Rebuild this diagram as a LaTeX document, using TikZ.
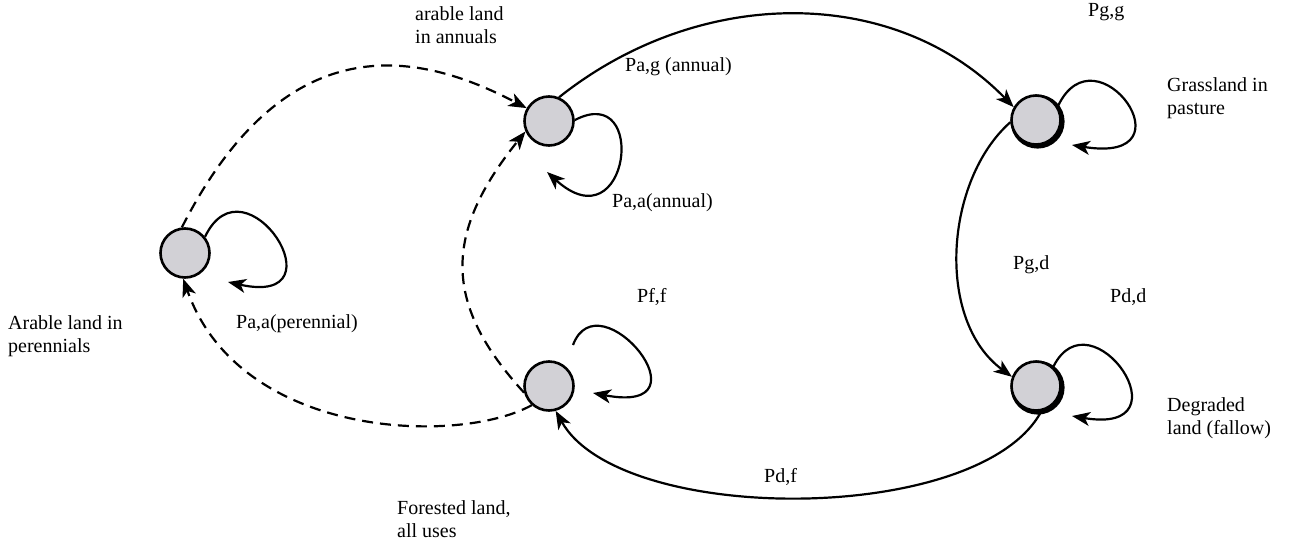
\documentclass[tikz,border=0pt]{standalone}
\usepackage{fontspec}
\setmainfont{Liberation Serif}
\usetikzlibrary{arrows.meta,calc}
\definecolor{nodegray}{RGB}{210,209,214}
\begin{document}
\begin{tikzpicture}[x=1pt,y=1pt,
  state/.style={circle,draw,line width=2.6pt,fill=nodegray,minimum size=49pt,inner sep=0pt},
  lbl/.style={font=\fontsize{20}{23}\selectfont, inner sep=0pt, anchor=west, align=left},
  edge/.style={line width=2.2pt, -{Stealth[length=18pt,width=14pt,inset=5pt]}},
  dashededge/.style={edge, dash pattern=on 11pt off 7pt},
]
\useasboundingbox (0,0) rectangle (1296,-549);
% shadows of two nodes
\fill (1037.6,-121.6) circle (27);
\fill (1037.6,-387.6) circle (27);
\node[state] (A) at (549,-121) {};
\node[state] (P) at (185,-253) {};
\node[state] (G) at (1036,-120) {};
\node[state] (D) at (1036,-386) {};
\node[state] (F) at (549,-386) {};

% solid connectors
\draw[edge] (A.67) .. controls (700,15) and (895,15) .. (G.150);
\draw[edge] (G.185) .. controls (945,-180) and (935,-320) .. (D.159);
\draw[edge] (D.-78) .. controls (980,-526) and (620,-526) .. (F.-75);
% dashed connectors
\draw[dashededge] (F.195) .. controls (443,-304) and (443,-234) .. (A.204);
\draw[dashededge] (F.228) .. controls (460,-445) and (240,-440) .. (P.-94);
\draw[dashededge] (P.97) .. controls (285,-25) and (416,-50) .. (A.150);
% self loops
\draw[edge] (A.2) .. controls ($(A)+(100,40)$) and ($(A)+(80,-125)$) .. ($(A)+(-2,-51)$);
\draw[edge] (G.32) .. controls ($(G)+(60,95)$) and ($(G)+(160,-45)$) .. ($(G)+(36,-25)$);
\draw[edge] (D.48) .. controls ($(D)+(55,95)$) and ($(D)+(155,-50)$) .. ($(D)+(36,-30)$);
\draw[edge] (P.39) .. controls ($(P)+(60,100)$) and ($(P)+(160,-55)$) .. ($(P)+(43,-29)$);
\draw[edge] ($(F)+(24,41)$) .. controls ($(F)+(50,110)$) and ($(F)+(165,-30)$) .. ($(F)+(44,-7)$);

% labels
\node[lbl] (la) at (415,-25) {arable land\\in annuals};
\node[lbl] (lag) at (625,-67) {Pa,g (annual)};
\node[lbl] (lgg) at (1088,-12) {Pg,g};
\node[lbl] (lg) at (1167,-98) {Grassland in\\pasture};
\node[lbl] (laa) at (612,-203) {Pa,a(annual)};
\node[lbl] (lp) at (8,-336) {Arable land in\\perennials};
\node[lbl] (lpp) at (236,-324) {Pa,a(perennial)};
\node[lbl] (lgd) at (1013,-265) {Pg,d};
\node[lbl] (lff) at (637,-297) {Pf,f};
\node[lbl] (ldd) at (1110,-297) {Pd,d};
\node[lbl] (ld) at (1167,-418) {Degraded\\land (fallow)};
\node[lbl] (ldf) at (764,-477) {Pd,f};
\node[lbl] (lf) at (397,-519) {Forested land,\\all uses};
\end{tikzpicture}
\end{document}
